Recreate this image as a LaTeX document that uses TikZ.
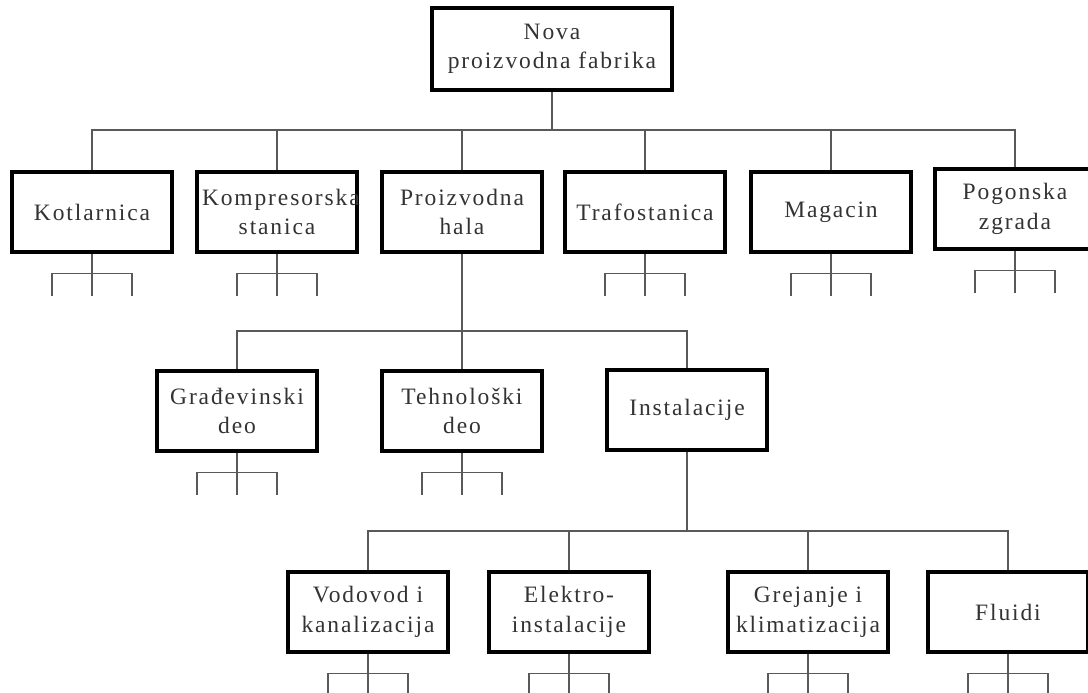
\documentclass[tikz,border=0pt]{standalone}
\usepackage{fontspec}
\setmainfont{Liberation Serif}
\newfontfamily\boxfont[LetterSpace=8]{Liberation Serif}
\usetikzlibrary{calc}

\tikzset{
  unit/.style={
    draw=black, line width=3.6pt, fill=white,
    minimum width=160pt, minimum height=80pt,
    inner sep=0pt, text width=150pt, align=center,
    text=black!80,
    font=\boxfont\fontsize{23.5}{29.5}\selectfont
  },
  rootunit/.style={unit, minimum width=240pt, minimum height=82pt, text width=230pt},
  link/.style={draw=black!65, line width=1.1pt},
}

\begin{document}
\begin{tikzpicture}[x=1pt, y=-1pt]
  \useasboundingbox (0,0) rectangle (1088,693);
  \clip (0,0) rectangle (1088,693);

  % top of the breakdown
  \node[rootunit] (root) at (552,49) {Nova\\proizvodna fabrika};

  % first level: objects of the factory
  \node[unit] (kot) at (92,212)   {Kotlarnica};
  \node[unit] (kom) at (277,212)  {Kompresorska\\stanica};
  \node[unit] (hal) at (462,212)  {Proizvodna\\hala};
  \node[unit] (tra) at (645,212)  {Trafostanica};
  \node[unit] (mag) at (831,212)  {Magacin};
  \node[unit] (pog) at (1015,209) {Pogonska\\zgrada};

  % second level: parts of the production hall
  \node[unit] (gra) at (237,411) {Građevinski\\deo};
  \node[unit] (teh) at (462,411) {Tehnološki\\deo};
  \node[unit] (ins) at (687,410) {Instalacije};

  % third level: installations
  \node[unit] (vod) at (368,612) {Vodovod i\\kanalizacija};
  \node[unit] (ele) at (569,612) {Elektro-\\instalacije};
  \node[unit] (gre) at (808,612) {Grejanje i\\klimatizacija};
  \node[unit] (flu) at (1008,612) {Fluidi};

  % bus lines
  \coordinate (bus1) at (552,130);
  \coordinate (bus2) at (462,331);
  \coordinate (bus3) at (687,531);

  \path[link] (root.south) -- (bus1);
  \path[link] (kot.north) |- (bus1) -| (pog.north);
  \foreach \n in {kom,hal,tra,mag}
    \path[link] (\n.north) -- (\n.north |- bus1);

  \path[link] (hal.south) -- (teh.north);
  \path[link] (gra.north) |- (bus2) -| (ins.north);

  \path[link] (ins.south) -- (bus3);
  \path[link] (vod.north) |- (bus3) -| (flu.north);
  \foreach \n in {ele,gre}
    \path[link] (\n.north) -- (\n.north |- bus3);

  % continuation brackets under the lowest boxes
  \foreach \n in {kot,kom,tra,mag,pog,gra,teh,vod,ele,gre,flu} {
    \path[link] (\n.south) -- ++(0,42);
    \path[link] ($(\n.south)+(-40,42)$) |- ($(\n.south)+(0,20)$) -| ($(\n.south)+(40,42)$);
  }
\end{tikzpicture}
\end{document}
